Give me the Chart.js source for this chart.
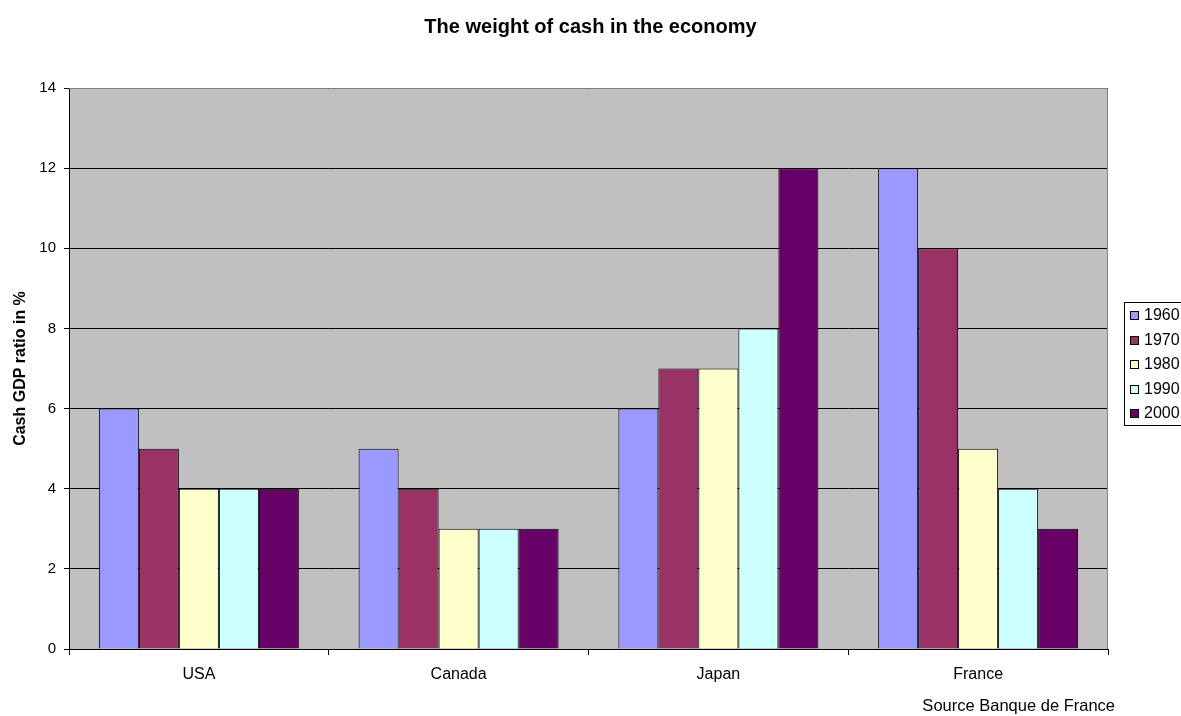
<!DOCTYPE html>
<html>
<head>
<meta charset="utf-8">
<script src="https://cdn.jsdelivr.net/npm/chart.js@4.4.1/dist/chart.umd.min.js"></script>
<style>
  html, body { margin: 0; padding: 0; background: #ffffff; }
</style>
</head>
<body>
<canvas id="cash_chart" width="1181" height="716"></canvas>
<script>
// data
const countries = ["USA", "Canada", "Japan", "France"];
const years = ["1960", "1970", "1980", "1990", "2000"];
const cash_1960 = [6, 5, 6, 12];
const cash_1970 = [5, 4, 7, 10];
const cash_1980 = [4, 3, 7, 5];
const cash_1990 = [4, 3, 8, 4];
const cash_2000 = [4, 3, 12, 3];
const y_ticks = [0, 2, 4, 6, 8, 10, 12, 14];
const source_note = "Source Banque de France";

const bar_colors = ['#9999ff', '#993366', '#ffffcc', '#ccffff', '#660066'];
const FONT = 'Arial, "Liberation Sans", sans-serif';

// grey plot background, grey frame on top/right, source note
const plot_area = {
  id: 'plot_area',
  beforeDraw(chart){
    const a = chart.chartArea, ctx = chart.ctx;
    ctx.save();
    ctx.fillStyle = '#c0c0c0';
    ctx.fillRect(a.left, a.top, a.right - a.left, a.bottom - a.top);
    ctx.restore();
  },
  afterDraw(chart){
    const a = chart.chartArea, ctx = chart.ctx;
    ctx.save();
    ctx.strokeStyle = '#808080';
    ctx.lineWidth = 1;
    ctx.beginPath();
    ctx.moveTo(a.left, a.top + 0.5);
    ctx.lineTo(a.right - 0.5, a.top + 0.5);
    ctx.lineTo(a.right - 0.5, a.bottom);
    ctx.stroke();
    ctx.fillStyle = '#000';
    ctx.font = '16.5px ' + FONT;
    ctx.textAlign = 'right';
    ctx.textBaseline = 'middle';
    ctx.fillText(source_note, 1115, 706);
    ctx.restore();
  }
};

// boxed legend on the right (runs off the canvas edge like the original)
const legend_box = {
  id: 'legend_box',
  afterDraw(chart){
    const ctx = chart.ctx;
    ctx.save();
    ctx.strokeStyle = '#000';
    ctx.lineWidth = 1;
    ctx.strokeRect(1124.5, 302.5, 80, 123);
    ctx.font = '16px ' + FONT;
    ctx.textBaseline = 'middle';
    chart.data.datasets.forEach((ds, i) => {
      const y = 315 + i * 24.5;
      ctx.fillStyle = ds.backgroundColor;
      ctx.fillRect(1130, Math.round(y) - 4, 9, 9);
      ctx.strokeRect(1130.5, Math.round(y) - 3.5, 8, 8);
      ctx.fillStyle = '#000';
      ctx.fillText(ds.label, 1144, Math.round(y) + 1);
    });
    ctx.restore();
  }
};

const series = [cash_1960, cash_1970, cash_1980, cash_1990, cash_2000];

new Chart(document.getElementById("cash_chart"), {
  type: "bar",
  data: {
    labels: countries,
    datasets: years.map((y, i) => ({
      label: y,
      data: series[i],
      backgroundColor: bar_colors[i],
      borderColor: '#000000',
      borderWidth: 1,
      categoryPercentage: 0.77,
      barPercentage: 1
    }))
  },
  options: {
    responsive: false,
    animation: false,
    layout: { padding: 0 },
    plugins: {
      legend: { display: false },
      tooltip: { enabled: false },
      title: {
        display: true,
        text: "The weight of cash in the economy",
        color: '#000',
        font: { family: FONT, size: 20, weight: 'bold' },
        padding: { top: 15, bottom: 49 }
      }
    },
    scales: {
      y: {
        min: 0,
        max: 14,
        afterBuildTicks: (scale) => { scale.ticks = y_ticks.map(v => ({ value: v })); },
        afterFit: (scale) => { scale.width = 69; },
        ticks: { color: '#000', font: { family: FONT, size: 15 }, padding: 8 },
        grid: { color: '#000', tickLength: 5, tickColor: '#000' },
        border: { color: '#000' },
        title: {
          display: true,
          text: "Cash GDP ratio in %",
          color: '#000',
          font: { family: FONT, size: 16, weight: 'bold' },
          padding: { top: 11, bottom: 0 }
        }
      },
      // empty right-hand axis: just reserves the strip where the legend sits
      spacer: {
        position: 'right',
        display: true,
        afterFit: (scale) => { scale.width = 73; },
        ticks: { display: false },
        grid: { display: false },
        border: { display: false }
      },
      x: {
        afterFit: (scale) => { scale.height = 67; },
        ticks: { color: '#000', font: { family: FONT, size: 16 }, padding: 10 },
        grid: { offset: true, drawOnChartArea: false, tickLength: 6, color: '#000' },
        border: { color: '#000' }
      }
    }
  },
  plugins: [plot_area, legend_box]
});
</script>
</body>
</html>
